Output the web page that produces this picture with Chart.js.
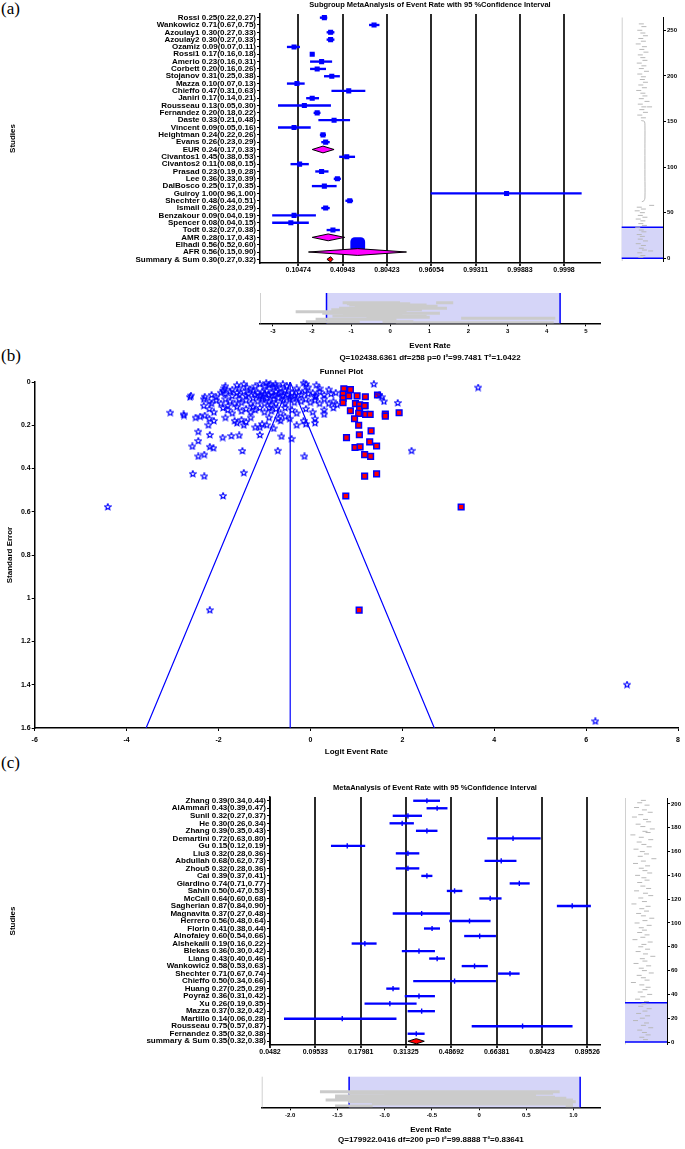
<!DOCTYPE html>
<html>
<head>
<meta charset="utf-8">
<script src="https://cdn.jsdelivr.net/npm/chart.js@4.4.1/dist/chart.umd.min.js"></script>
<style>
  html, body { margin: 0; padding: 0; background: #fff; }
  #page { position: relative; width: 685px; height: 1149px; overflow: hidden; }
  #page canvas { position: absolute; }
  .panel { position: absolute; font-family: "Liberation Serif", "Times New Roman", serif; font-size: 17px; line-height: 17px; color: #000; }
</style>
</head>
<body>
<div id="page">
  <div class="panel" style="left:1px;top:0px">(a)</div>
  <div class="panel" style="left:1px;top:347px">(b)</div>
  <div class="panel" style="left:1px;top:754px">(c)</div>
  <canvas id="forestA" style="left:0;top:0" width="610" height="280"></canvas>
  <canvas id="sideA" style="left:612px;top:8px" width="73" height="258"></canvas>
  <canvas id="stripA" style="left:240px;top:285px" width="370" height="79"></canvas>
  <canvas id="funnel" style="left:0;top:364px" width="685" height="393"></canvas>
  <canvas id="forestC" style="left:0;top:780px" width="610" height="282"></canvas>
  <canvas id="sideC" style="left:612px;top:790px" width="73" height="260"></canvas>
  <canvas id="stripC" style="left:240px;top:1068px" width="370" height="81"></canvas>
</div>
<script>
// ---- (a) subgroup meta-analysis ----
const studiesA = ['Rossi', 'Wankowicz', 'Azoulay1', 'Azoulay2', 'Ozamiz', 'Rossi1', 'Amerio', 'Corbett', 'Stojanov', 'Mazza',
    'Chieffo', 'Janiri', 'Rousseau', 'Fernandez', 'Daste', 'Vincent', 'Heightman', 'Evans', 'EUR', 'Civantos1',
    'Civantos2', 'Prasad', 'Lee', 'DalBosco', 'Guiroy', 'Shechter', 'Ismail', 'Benzakour', 'Spencer', 'Todt',
    'AMR', 'Elhadi', 'AFR', 'Summary & Sum'];
const rateA = [0.25, 0.71, 0.30, 0.30, 0.09, 0.17, 0.23, 0.20, 0.31, 0.10,
    0.47, 0.17, 0.13, 0.20, 0.33, 0.09, 0.24, 0.26, 0.24, 0.45,
    0.11, 0.23, 0.36, 0.25, 0.998, 0.48, 0.26, 0.09, 0.08, 0.32,
    0.28, 0.56, 0.56, 0.30];
const lowA = [0.22, 0.67, 0.27, 0.27, 0.07, 0.16, 0.16, 0.16, 0.25, 0.07,
    0.31, 0.14, 0.05, 0.18, 0.21, 0.05, 0.22, 0.23, 0.17, 0.38,
    0.08, 0.19, 0.33, 0.17, 0.96, 0.44, 0.23, 0.04, 0.04, 0.27,
    0.17, 0.52, 0.15, 0.27];
const highA = [0.27, 0.75, 0.33, 0.33, 0.11, 0.18, 0.31, 0.26, 0.38, 0.13,
    0.63, 0.21, 0.30, 0.22, 0.48, 0.16, 0.26, 0.29, 0.33, 0.53,
    0.15, 0.28, 0.39, 0.35, 0.9999, 0.51, 0.29, 0.19, 0.15, 0.38,
    0.43, 0.60, 0.90, 0.32];
const subgroupsA = ['EUR', 'AMR', 'AFR'];
const singleGroupStudyA = ['Elhadi'];
const pooledA = 'Summary & Sum';
const rateTicksA = [0.10474, 0.40943, 0.80423, 0.96054, 0.99311, 0.99883, 0.9998];
const statsA = 'Q=102438.6361 df=258 p=0 I²=99.7481 T²=1.0422';

// overview of all 259 studies (logit, study no.)
const overviewA = [[-0.2, 257], [0.3, 254], [-0.5, 250], [0.1, 247], [0.6, 244], [-0.3, 241], [0.2, 238], [-0.8, 235],
    [0.4, 232], [-0.1, 229], [0.7, 226], [-0.4, 223], [0.1, 220], [0.5, 217], [-0.6, 214], [0.3, 211], [-0.2, 208],
    [0.8, 205], [-0.5, 202], [0.2, 199], [0.0, 196], [0.6, 193], [-0.3, 190], [0.4, 187], [-0.7, 184], [0.1, 181],
    [0.5, 178], [-0.2, 175], [0.9, 172], [-0.4, 169], [0.3, 166], [1.4, 166], [-0.1, 163], [0.6, 160], [-0.5, 157],
    [0.2, 154], [1.8, 58], [-0.6, 56], [0.2, 54], [-1.0, 52], [0.0, 50], [-0.4, 47], [0.5, 45], [-0.8, 43], [0.1, 41],
    [-0.3, 38], [0.4, 36], [-0.9, 34], [-0.2, 31], [0.3, 29], [-0.6, 26], [0.0, 24], [-0.4, 21], [0.6, 19], [-0.8, 16],
    [0.2, 14], [-0.2, 11], [0.4, 9], [1.6, 8], [-0.5, 6], [0.1, 3], [-0.3, 1]];
const overviewTraceA = [[-0.2, 151], [0.4, 150], [0.5, 146], [0.5, 120], [0.5, 90], [0.5, 66], [0.3, 63], [-0.1, 62]];
const overviewTicksA = [0, 50, 100, 150, 200, 250];
const viewA = [0, 34];

const stripLowA = [-1.21, 1.18, -1.1, -1.04, -0.9, -1.3, -1.5, -2.41, -1.73, -1.2, -1.47, -0.6, 1.82, -1.9, -2.15, -0.19, 0.15];
const stripHighA = [0.24, 1.6, 0.5, 0.92, 1.2, 1.44, 0.8, 0.41, 1.26, 0.3, 0.92, 1.0, 4.21, 0.15, -0.79, 0.58, 4.17];
const stripRowA = [20.6, 20.6, 19.5, 18.3, 17, 15, 13.5, 11.6, 10, 9, 7.3, 6, 5, 4, 1.6, 1.6, 0.6];
const stripTicksA = [-3, -2, -1, 0, 1, 2, 3, 4, 5];
const stripViewA = [-1.63, 4.34];

// ---- (b) funnel plot ----
const funnelMean = -0.44;
const funnelMaxSE = 1.6;
const funnelXTicks = [-6, -4, -2, 0, 2, 4, 6, 8];
const funnelYTicks = [0, 0.2, 0.4, 0.6, 0.8, 1, 1.2, 1.4, 1.6];
const starStudies = [
    [-1.87, 0.03], [-1.85, 0.02], [-1.6, 0.015], [-1.55, 0.03], [-1.38, 0.025], [-1.2, 0.02], [-1.1, 0.01], [-1.0, 0.02],
    [-0.96, 0.005], [-0.9, 0.015], [-0.87, 0.01], [-0.8, 0.025], [-0.76, 0.01], [-0.74, 0.02], [-0.65, 0.03], [-0.51, 0.02],
    [-0.3, 0.03], [-0.15, 0.005], [-0.1, 0.01], [-0.05, 0.025], [0.13, 0.015], [0.2, 0.03], [0.4, 0.035], [-1.7, 0.035],
    [-1.3, 0.035], [-0.6, 0.01], [-1.45, 0.01], [1.38, 0.01], [3.65, 0.026],
    [-2.6, 0.063], [-2.62, 0.07], [-2.3, 0.068], [-2.15, 0.06], [-2.05, 0.07], [-1.95, 0.05], [-1.85, 0.055], [-1.75, 0.045],
    [-1.7, 0.065], [-1.6, 0.05], [-1.55, 0.06], [-1.45, 0.045], [-1.4, 0.065], [-1.35, 0.055], [-1.25, 0.04], [-1.2, 0.06],
    [-1.15, 0.05], [-1.1, 0.065], [-1.05, 0.045], [-1.0, 0.055], [-0.95, 0.04], [-0.9, 0.06], [-0.85, 0.05], [-0.8, 0.065],
    [-0.75, 0.045], [-0.7, 0.055], [-0.65, 0.05], [-0.6, 0.065], [-0.55, 0.04], [-0.5, 0.06], [-0.4, 0.05], [-0.35, 0.065],
    [-0.25, 0.045], [-0.2, 0.06], [-0.12, 0.04], [-0.05, 0.055], [0.05, 0.05], [0.12, 0.065], [0.2, 0.045], [0.3, 0.06],
    [0.45, 0.055], [0.55, 0.05], [-1.9, 0.04], [-1.05, 0.07], [-0.45, 0.07], [0.1, 0.07], [1.5, 0.06], [1.55, 0.07],
    [-2.32, 0.08], [-2.2, 0.09], [-2.15, 0.1], [-2.05, 0.085], [-1.95, 0.1], [-1.85, 0.08], [-1.75, 0.09], [-1.65, 0.1],
    [-1.55, 0.08], [-1.5, 0.095], [-1.4, 0.085], [-1.3, 0.1], [-1.25, 0.075], [-1.15, 0.09], [-1.05, 0.08], [-1.0, 0.1],
    [-0.95, 0.075], [-0.9, 0.09], [-0.8, 0.08], [-0.75, 0.1], [-0.7, 0.075], [-0.6, 0.085], [-0.55, 0.1], [-0.45, 0.08],
    [-0.35, 0.095], [-0.3, 0.075], [-0.2, 0.09], [-0.1, 0.08], [0.0, 0.095], [0.1, 0.085], [0.2, 0.1], [0.3, 0.08],
    [0.4, 0.1], [0.5, 0.09], [0.58, 0.105], [-1.8, 0.11], [-0.85, 0.105], [1.9, 0.097], [1.6, 0.09],
    [-3.05, 0.142], [-2.76, 0.15], [-2.75, 0.155], [-2.32, 0.11], [-2.2, 0.125], [-2.1, 0.14], [-1.9, 0.12], [-1.8, 0.13],
    [-1.7, 0.145], [-1.6, 0.115], [-1.5, 0.135], [-1.4, 0.125], [-1.3, 0.14], [-1.25, 0.115], [-1.2, 0.13], [-1.1, 0.12],
    [-1.0, 0.14], [-0.9, 0.12], [-0.85, 0.135], [-0.75, 0.125], [-0.65, 0.145], [-0.55, 0.12], [-0.4, 0.13], [-0.3, 0.145],
    [-0.1, 0.125], [0.05, 0.14], [0.3, 0.13], [0.5, 0.12],
    [-2.5, 0.165], [-2.4, 0.16], [-2.3, 0.155], [-2.22, 0.2], [-2.2, 0.17], [-2.1, 0.18], [-1.85, 0.165], [-1.65, 0.18],
    [-1.6, 0.19], [-1.5, 0.175], [-1.45, 0.2], [-1.4, 0.185], [-1.3, 0.165], [-1.2, 0.21], [-1.1, 0.21], [-1.05, 0.195],
    [-0.95, 0.2], [-0.9, 0.165], [-0.8, 0.215], [-0.7, 0.17], [-0.65, 0.18], [-0.55, 0.16], [-0.45, 0.17], [-0.3, 0.2],
    [-0.15, 0.18], [-0.1, 0.195], [0.1, 0.17], [0.1, 0.19], [0.3, 0.15],
    [-2.44, 0.23], [-2.19, 0.245], [-2.44, 0.273], [-2.57, 0.298], [-2.19, 0.3], [-2.11, 0.306], [-1.91, 0.257],
    [-1.72, 0.25], [-1.55, 0.247], [-1.48, 0.319], [-1.1, 0.245], [-0.71, 0.318], [-0.63, 0.252], [-0.41, 0.263],
    [-0.13, 0.344], [-2.44, 0.344], [-2.31, 0.336], [-2.56, 0.425], [-2.31, 0.436], [-1.9, 0.527], [-1.45, 0.42],
    [2.2, 0.318], [-4.41, 0.578], [-2.19, 1.055], [6.89, 1.40], [6.2, 1.569]];
const squareStudies = [
    [0.727, 0.031], [0.87, 0.035], [0.71, 0.056], [0.71, 0.076], [0.71, 0.096], [0.835, 0.064], [1.015, 0.064],
    [1.195, 0.068], [1.46, 0.06], [0.98, 0.1], [1.07, 0.105], [1.07, 0.125], [1.19, 0.109], [0.87, 0.133], [1.05, 0.145],
    [1.2, 0.15], [1.3, 0.15], [1.63, 0.148], [1.63, 0.158], [1.93, 0.142], [1.05, 0.2], [0.785, 0.257], [1.065, 0.244],
    [1.32, 0.226], [1.29, 0.277], [0.97, 0.303], [1.08, 0.3], [1.44, 0.296], [1.18, 0.336], [1.31, 0.344], [1.18, 0.435],
    [1.44, 0.425], [0.77, 0.527], [3.28, 0.578], [1.06, 1.055], [0.96, 0.17], [1.18, 0.11]];

// ---- (c) meta-analysis ----
const studiesC = ['Zhang', 'AlAmmari', 'Sunil', 'He', 'Zhang', 'Demartini', 'Gu', 'Liu3', 'Abdullah', 'Zhou5',
    'Cai', 'Giardino', 'Sahin', 'McCall', 'Sagherian', 'Magnavita', 'Herrero', 'Florin', 'Alnofaiey', 'Alshekaili',
    'Blekas', 'Liang', 'Wankowicz', 'Shechter', 'Chieffo', 'Huang', 'Poyraz', 'Xu', 'Mazza', 'Martillo',
    'Rousseau', 'Fernandez', 'summary & Sum'];
const rateC = [0.39, 0.43, 0.32, 0.30, 0.39, 0.72, 0.15, 0.32, 0.68, 0.32,
    0.39, 0.74, 0.50, 0.64, 0.87, 0.37, 0.56, 0.41, 0.60, 0.19,
    0.36, 0.43, 0.58, 0.71, 0.50, 0.27, 0.36, 0.26, 0.37, 0.14,
    0.75, 0.35, 0.35];
const lowC = [0.34, 0.39, 0.27, 0.26, 0.35, 0.63, 0.12, 0.28, 0.62, 0.28,
    0.37, 0.71, 0.47, 0.60, 0.84, 0.27, 0.48, 0.38, 0.54, 0.16,
    0.30, 0.40, 0.53, 0.67, 0.34, 0.25, 0.31, 0.19, 0.32, 0.06,
    0.57, 0.32, 0.32];
const highC = [0.44, 0.47, 0.37, 0.34, 0.43, 0.80, 0.19, 0.36, 0.73, 0.36,
    0.41, 0.77, 0.53, 0.68, 0.90, 0.48, 0.64, 0.44, 0.66, 0.22,
    0.42, 0.46, 0.63, 0.74, 0.66, 0.29, 0.42, 0.35, 0.42, 0.28,
    0.87, 0.38, 0.38];
const pooledC = 'summary & Sum';
const rateTicksC = [0.0482, 0.09533, 0.17981, 0.31325, 0.48692, 0.66381, 0.80423, 0.89526];
const statsC = 'Q=179922.0416 df=200 p=0 I²=99.8888 T²=0.83641';

const overviewC = [[-0.5, 203], [-1.2, 201], [0.2, 199], [-1.8, 197], [-0.3, 195], [0.8, 193], [-1.0, 191], [-2.2, 189],
    [-0.1, 187], [0.5, 185], [-1.5, 183], [-0.6, 181], [1.2, 179], [-0.2, 177], [0.4, 176], [-2.5, 174], [-0.9, 172],
    [0.9, 170], [-1.3, 168], [-0.4, 166], [0.6, 164], [-1.9, 162], [-0.7, 160], [0.1, 158], [-1.1, 156], [1.5, 154],
    [-0.5, 152], [-2.0, 150], [0.3, 148], [-0.9, 146], [-0.2, 144], [0.7, 142], [-1.6, 140], [-0.4, 138], [0.2, 136],
    [-1.2, 134], [-0.6, 131], [0.5, 129], [-1.8, 127], [-0.1, 125], [0.9, 123], [-1.0, 121], [-0.3, 118], [-2.3, 116],
    [0.4, 114], [-0.8, 112], [0.1, 110], [-1.4, 108], [-0.5, 106], [1.1, 104], [-0.2, 102], [-1.7, 100], [0.6, 98],
    [-0.9, 96], [-0.3, 94], [-1.2, 92], [0.2, 90], [-0.6, 88], [-2.1, 86], [0.8, 84], [-0.4, 82], [-1.0, 80], [0.3, 78],
    [-1.5, 76], [-0.1, 74], [1.3, 72], [-0.7, 70], [-0.2, 68], [-1.9, 66], [0.5, 64], [-0.9, 62], [-0.3, 60], [1.0, 58],
    [-1.3, 56], [-0.5, 54], [0.2, 52], [-2.4, 50], [-0.8, 48], [0.4, 46], [-0.2, 44], [-1.1, 42], [0.7, 40], [-0.6, 38],
    [-1.6, 36], [0.1, 34], [-0.4, 32], [-1.0, 30], [0.6, 28], [-0.2, 26], [-1.4, 24], [0.3, 22], [-0.7, 20], [-2.0, 18],
    [0.1, 16], [-0.5, 14], [0.9, 12], [-1.2, 10], [-0.3, 8], [0.4, 6], [-0.8, 4], [-0.1, 2]];
const overviewTicksC = [0, 20, 40, 60, 80, 100, 120, 140, 160, 180, 200];
const viewC = [0, 33];

const stripLowC = [-1.68, -1.38, -1.0, -1.52, -1.3, -1.52, -1.62, -1.38, -0.9, -1.13, -1.52, 0.92];
const stripHighC = [0.85, 0.78, 0.6, 0.53, 0.8, 0.92, 0.99, 1.02, 0.95, 0.99, -1.13, 0.99];
const stripRowC = [15.6, 14, 12.5, 11.3, 10, 9, 7.3, 5.6, 4.5, 3.3, 1.3, 1.3];
const stripTicksC = [-2, -1.5, -1, -0.5, 0, 0.5, 1];
const stripViewC = [-1.375, 1.07];

// ---------------------------------------------------------------
const BLUE = '#0000ff';
const FAMILY = '"Liberation Sans", Arial, sans-serif';
const bold = (size, lineHeight) => ({ family: FAMILY, size, weight: 'bold', lineHeight: lineHeight || 1.2 });
const logit = p => Math.log(p / (1 - p));

Chart.defaults.font.family = FAMILY;
Chart.defaults.color = '#000';

// pooled estimates drawn as diamonds on the forest plots
const diamondPlugin = (items) => ({
    id: 'diamonds',
    afterDatasetsDraw(chart) {
        const { ctx, scales: { x, y } } = chart;
        items.forEach(d => {
            const yc = y.getPixelForValue(d.row);
            const x0 = x.getPixelForValue(d.lo);
            const xm = x.getPixelForValue(d.est);
            const x1 = x.getPixelForValue(d.hi);
            ctx.save();
            ctx.beginPath();
            ctx.moveTo(x0, yc);
            ctx.lineTo(xm, yc - d.h);
            ctx.lineTo(x1, yc);
            ctx.lineTo(xm, yc + d.h);
            ctx.closePath();
            ctx.fillStyle = d.fill;
            ctx.fill();
            ctx.lineWidth = 1;
            ctx.strokeStyle = '#000';
            ctx.stroke();
            ctx.restore();
        });
    }
});

// shaded "visible window" of the overview panels
const viewPlugin = (axis, from, to) => ({
    id: 'viewBox',
    beforeDatasetsDraw(chart) {
        const { ctx, chartArea: a } = chart;
        const s = chart.scales[axis];
        const p0 = s.getPixelForValue(from);
        const p1 = s.getPixelForValue(to);
        ctx.save();
        ctx.strokeStyle = '#d0d0d0';
        ctx.lineWidth = 1;
        ctx.beginPath();
        ctx.moveTo(a.left + 0.5, a.top);
        ctx.lineTo(a.left + 0.5, a.bottom);
        ctx.stroke();
        ctx.fillStyle = '#d5d5f8';
        ctx.strokeStyle = BLUE;
        ctx.lineWidth = 1.5;
        ctx.beginPath();
        if (axis === 'x') {
            ctx.fillRect(p0, a.top, p1 - p0, a.bottom - a.top);
            ctx.moveTo(p0, a.top); ctx.lineTo(p0, a.bottom);
            ctx.moveTo(p1, a.top); ctx.lineTo(p1, a.bottom);
        } else {
            ctx.fillRect(a.left, p1, a.right - a.left, p0 - p1);
            ctx.moveTo(a.left, p0); ctx.lineTo(a.right, p0);
            ctx.moveTo(a.left, p1); ctx.lineTo(a.right, p1);
        }
        ctx.stroke();
        ctx.restore();
    }
});

const forestChart = (id, c) => {
    const labels = c.names.map((n, i) => `${n} ${c.rate[i].toFixed(2)}(${c.low[i].toFixed(2)},${c.high[i].toFixed(2)})`);
    const isPooled = i => c.groups.includes(c.names[i]) || c.names[i] === c.pooled;
    const isBig = i => c.single.includes(c.names[i]);
    const ciBars = labels.map((l, i) => isPooled(i) ? null : [logit(c.low[i]), logit(c.high[i])]);
    const rows = labels.map((l, i) => i);
    const points = rows.filter(i => !isPooled(i) && !isBig(i)).map(i => ({ x: logit(c.rate[i]), y: labels[i] }));
    const bigPoints = rows.filter(i => isBig(i)).map(i => ({ x: logit(c.rate[i]), y: labels[i] }));
    const diamonds = rows.filter(isPooled).map(i => ({
        row: i,
        lo: logit(c.low[i]),
        est: logit(c.rate[i]),
        hi: logit(c.high[i]),
        fill: c.names[i] === c.pooled ? '#ff0000' : '#ff00ff',
        h: c.names[i] === c.pooled ? 2.6 : 3.4
    }));

    return new Chart(document.getElementById(id), {
        type: 'bar',
        data: {
            labels: labels,
            datasets: [
                { data: ciBars, backgroundColor: BLUE, barThickness: 1.7, borderWidth: 0, order: 3 },
                {
                    type: 'scatter', data: points, pointStyle: c.marker, pointRadius: c.markerSize,
                    pointRotation: c.marker === 'line' ? 90 : 0,
                    backgroundColor: BLUE, borderColor: BLUE, borderWidth: 1.4, order: 2
                },
                {
                    type: 'scatter', data: bigPoints, pointStyle: 'rectRounded', pointRadius: 8.6,
                    backgroundColor: BLUE, borderColor: BLUE, borderWidth: 0, order: 1
                }
            ]
        },
        options: {
            responsive: false,
            animation: false,
            indexAxis: 'y',
            layout: { padding: { left: 0, right: 10, top: 0, bottom: 0 } },
            plugins: {
                legend: { display: false },
                tooltip: { enabled: false },
                title: {
                    display: true, fullSize: false, text: c.title, color: '#000',
                    font: bold(7.5), padding: c.titlePad
                }
            },
            scales: {
                x: {
                    type: 'linear', min: c.xMin, max: c.xMax, offset: false,
                    afterBuildTicks: s => { s.ticks = c.ticks.map(v => ({ value: logit(v) })); },
                    ticks: { font: bold(7), color: '#000', padding: 0, autoSkip: false, maxRotation: 0, callback: (v, i) => String(c.ticks[i]) },
                    grid: { color: '#2b2b2b', lineWidth: 2, tickLength: 3 },
                    border: { color: '#000', width: 1.5 },
                    afterFit: s => { s.height = 17; }
                },
                y: {
                    type: 'category', offset: true,
                    ticks: { font: bold(8), color: '#000', autoSkip: false, padding: 1 },
                    grid: { drawOnChartArea: false, offset: false, tickLength: 3, color: '#000' },
                    border: { color: '#000', width: 1.5 },
                    title: { display: true, text: 'Studies', font: bold(8), color: '#000', padding: { top: 8, bottom: 0 } },
                    afterFit: s => { s.width = c.yWidth; }
                }
            }
        },
        plugins: [diamondPlugin(diamonds)]
    });
};

const sideChart = (id, c) => new Chart(document.getElementById(id), {
    type: 'scatter',
    data: {
        datasets: [
            {
                data: c.marks.map(m => ({ x: m[0], y: m[1] })), pointStyle: 'line', pointRadius: 2.5,
                borderColor: '#b8b8b8', borderWidth: 1
            },
            {
                type: 'line', data: c.trace.map(m => ({ x: m[0], y: m[1] })), borderColor: '#b8b8b8',
                borderWidth: 1, pointRadius: 0, tension: 0.3
            }
        ]
    },
    options: {
        responsive: false,
        animation: false,
        layout: { padding: c.pad },
        plugins: { legend: { display: false }, tooltip: { enabled: false } },
        scales: {
            x: { type: 'linear', min: -4, max: 4, display: false },
            y: {
                type: 'linear', position: 'right', min: c.yMin, max: c.yMax,
                afterBuildTicks: s => { s.ticks = c.ticks.map(v => ({ value: v })); },
                ticks: { font: bold(6), color: '#000', padding: 1 },
                grid: { drawOnChartArea: false, tickLength: 3, color: '#000' },
                border: { color: '#000', width: 1 },
                afterFit: s => { s.width = c.axisW; }
            }
        }
    },
    plugins: [viewPlugin('y', c.view[0], c.view[1])]
});

const stripChart = (id, c) => new Chart(document.getElementById(id), {
    type: 'bar',
    data: {
        datasets: [{
            data: c.rows.map((r, i) => ({ x: [c.lo[i], c.hi[i]], y: r })),
            backgroundColor: '#cbcbcb', barThickness: 2.2, borderWidth: 0
        }]
    },
    options: {
        responsive: false,
        animation: false,
        indexAxis: 'y',
        layout: { padding: c.pad },
        plugins: { legend: { display: false }, tooltip: { enabled: false } },
        scales: {
            x: {
                type: 'linear', min: c.xMin, max: c.xMax, offset: false,
                afterBuildTicks: s => { s.ticks = c.ticks.map(v => ({ value: v })); },
                ticks: { font: bold(6), color: '#000', padding: 1, maxRotation: 0, autoSkip: false },
                grid: { drawOnChartArea: false, tickLength: 3, color: '#000' },
                border: { color: '#000', width: 1.5 },
                title: {
                    display: true, text: ['Event Rate', c.stats], color: '#000',
                    font: bold(8, c.lineHeight), padding: { top: 0, bottom: 0 }
                },
                afterFit: s => { s.height = c.axisH; }
            },
            y: { type: 'linear', min: 0, max: c.yMax, display: false, offset: false }
        }
    },
    plugins: [viewPlugin('x', c.view[0], c.view[1])]
});

// pentagram marker like the original funnel plot
const pentagram = (size, color) => {
    const cv = document.createElement('canvas');
    cv.width = size;
    cv.height = size;
    const g = cv.getContext('2d');
    const m = size / 2, R = size / 2 - 0.7, r = R * 0.45;
    g.beginPath();
    for (let k = 0; k < 10; k++) {
        const ang = -Math.PI / 2 + k * Math.PI / 5;
        const rr = k % 2 ? r : R;
        if (k === 0) g.moveTo(m + rr * Math.cos(ang), m + rr * Math.sin(ang));
        else g.lineTo(m + rr * Math.cos(ang), m + rr * Math.sin(ang));
    }
    g.closePath();
    g.strokeStyle = color;
    g.lineWidth = 1.1;
    g.stroke();
    return cv;
};

(() => {
    forestChart('forestA', {
        names: studiesA, rate: rateA, low: lowA, high: highA,
        groups: subgroupsA, single: singleGroupStudyA, pooled: pooledA,
        ticks: rateTicksA, xMin: -3.68, xMax: 9.96, yWidth: 260,
        title: 'Subgroup MetaAnalysis of Event Rate with 95 %Confidence Interval',
        titlePad: { top: 0.5, bottom: 4.5 },
        marker: 'rect', markerSize: 2.6
    });

    sideChart('sideA', {
        marks: overviewA, trace: overviewTraceA, ticks: overviewTicksA, view: viewA,
        yMin: -3, yMax: 264, axisW: 22, pad: { left: 9.7, right: 0, top: 9.5, bottom: 5 }
    });

    stripChart('stripA', {
        lo: stripLowA, hi: stripHighA, rows: stripRowA, ticks: stripTicksA, view: stripViewA,
        xMin: -3.33, xMax: 5.36, yMax: 30.3, stats: statsA, lineHeight: 1.5, axisH: 40.7,
        pad: { left: 20, right: 10, top: 8, bottom: 0 }
    });

    const seLine = [
        { x: funnelMean - 1.96 * funnelMaxSE, y: funnelMaxSE },
        { x: funnelMean, y: 0 },
        { x: funnelMean + 1.96 * funnelMaxSE, y: funnelMaxSE }
    ];
    new Chart(document.getElementById('funnel'), {
        type: 'scatter',
        data: {
            datasets: [
                { type: 'line', data: seLine, borderColor: BLUE, borderWidth: 1.2, pointRadius: 0, fill: false },
                { type: 'line', data: [{ x: funnelMean, y: 0 }, { x: funnelMean, y: funnelMaxSE }], borderColor: BLUE, borderWidth: 1.2, pointRadius: 0, fill: false },
                { data: starStudies.map(p => ({ x: p[0], y: p[1] })), pointStyle: pentagram(8, BLUE), pointRadius: 3.5, clip: false },
                {
                    data: squareStudies.map(p => ({ x: p[0], y: p[1] })), pointStyle: 'rect', pointRadius: 4,
                    backgroundColor: '#ff0000', borderColor: BLUE, borderWidth: 1.5, clip: false
                }
            ]
        },
        options: {
            responsive: false,
            animation: false,
            layout: { padding: { left: 0, right: 2, top: 0, bottom: 0 } },
            plugins: {
                legend: { display: false },
                tooltip: { enabled: false },
                title: { display: true, text: 'Funnel Plot', color: '#000', font: bold(8), padding: { top: 3.2, bottom: 5.2 } }
            },
            scales: {
                x: {
                    type: 'linear', min: -6, max: 8,
                    afterBuildTicks: s => { s.ticks = funnelXTicks.map(v => ({ value: v })); },
                    ticks: { font: bold(7), color: '#000', padding: 5 },
                    grid: { drawOnChartArea: false, tickLength: 3, color: '#000' },
                    border: { color: '#000', width: 1.5 },
                    title: { display: true, text: 'Logit Event Rate', color: '#000', font: bold(8), padding: { top: 0, bottom: 0 } },
                    afterFit: s => { s.height = 29; }
                },
                y: {
                    type: 'linear', reverse: true, min: 0, max: funnelMaxSE,
                    afterBuildTicks: s => { s.ticks = funnelYTicks.map(v => ({ value: v })); },
                    ticks: { font: bold(7), color: '#000', padding: 1, callback: v => String(Math.round(v * 10) / 10) },
                    grid: { drawOnChartArea: false, tickLength: 3, color: '#000' },
                    border: { color: '#000', width: 1.5 },
                    title: { display: true, text: 'Standard Error', color: '#000', font: bold(8), padding: { top: 5, bottom: 0 } },
                    afterFit: s => { s.width = 34.7; }
                }
            }
        }
    });

    forestChart('forestC', {
        names: studiesC, rate: rateC, low: lowC, high: highC,
        groups: [], single: [], pooled: pooledC,
        ticks: rateTicksC, xMin: logit(rateTicksC[0]), xMax: 2.35, yWidth: 270,
        title: 'MetaAnalysis of Event Rate with 95 %Confidence Interval',
        titlePad: { top: 3.5, bottom: 4.5 },
        marker: 'line', markerSize: 2.6
    });

    sideChart('sideC', {
        marks: overviewC, trace: [], ticks: overviewTicksC, view: viewC,
        yMin: -2, yMax: 205, axisW: 18, pad: { left: 13, right: 0, top: 8, bottom: 5.6 }
    });

    stripChart('stripC', {
        lo: stripLowC, hi: stripHighC, rows: stripRowC, ticks: stripTicksC, view: stripViewC,
        xMin: -2.30, xMax: 1.28, yMax: 30.6, stats: statsC, lineHeight: 1.25, axisH: 37.7,
        pad: { left: 21.7, right: 10, top: 8.7, bottom: 4 }
    });
})();
</script>
</body>
</html>
